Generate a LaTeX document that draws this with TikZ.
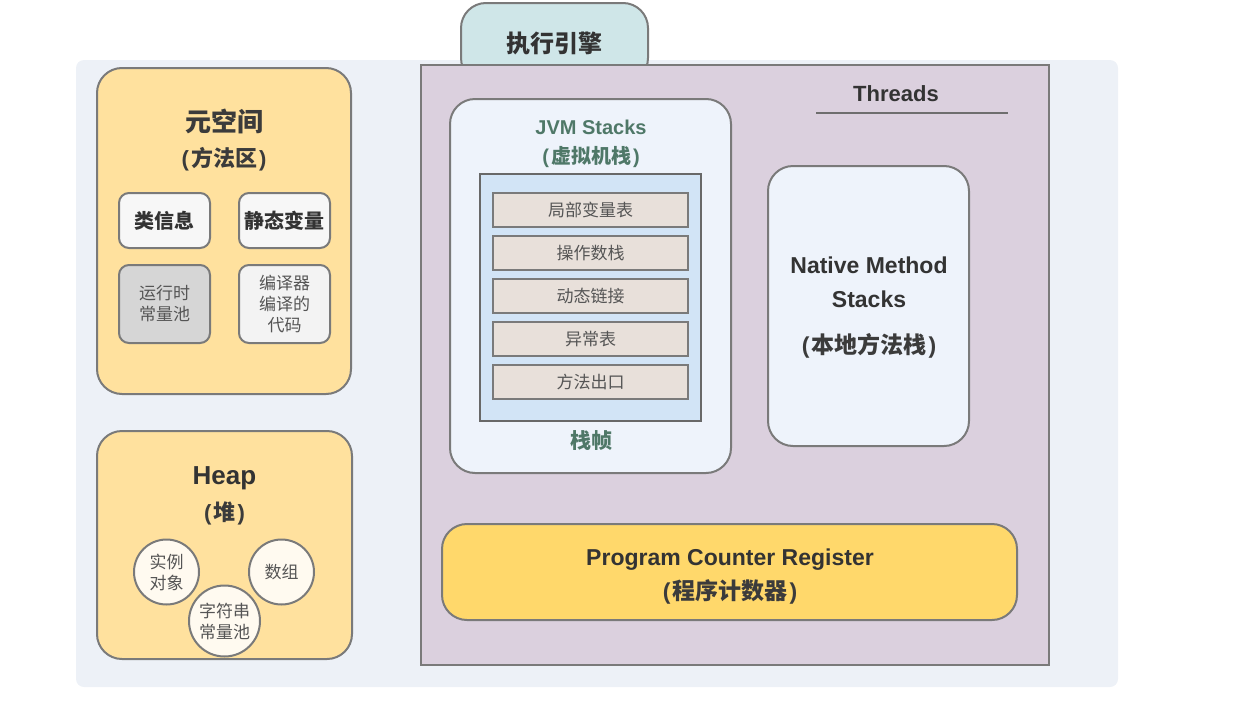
\documentclass[tikz,border=0pt]{standalone}
\usepackage{fontspec}
\setmainfont{Liberation Sans}
\newfontfamily\cjk{Noto Sans CJK SC}
\newcommand\pin[1]{(\kern2pt{\cjk #1}\kern2pt)}
\definecolor{panel}{HTML}{EDF1F7}
\definecolor{ybox}{HTML}{FFE19E}
\definecolor{thr}{HTML}{DBD0DE}
\definecolor{tabc}{HTML}{CFE6E8}
\definecolor{stk}{HTML}{EEF3FB}
\definecolor{frm}{HTML}{D2E4F6}
\definecolor{rowc}{HTML}{E8E0DA}
\definecolor{pcc}{HTML}{FFD86B}
\definecolor{circc}{HTML}{FFFAF0}
\definecolor{lgray}{HTML}{F7F7F7}
\definecolor{mgray}{HTML}{D6D6D6}
\definecolor{sgray}{HTML}{F3F3F3}
\definecolor{bord}{HTML}{7A7A7A}
\definecolor{grn}{HTML}{4F7868}
\definecolor{dtxt}{HTML}{333333}
\definecolor{gtxt}{HTML}{555555}
\tikzset{
  shapebox/.style={draw=bord, line width=2pt, inner sep=0pt, rectangle},
  rbox/.style={shapebox, rounded corners=25pt},
  sbox/.style={shapebox, rounded corners=10pt},
  rowbox/.style={shapebox, fill=rowc, minimum width=195pt, minimum height=34pt, text=gtxt, font=\fontsize{17pt}{20pt}\selectfont\cjk},
  circbox/.style={draw=bord, line width=2pt, circle, inner sep=0pt, fill=circc, text=gtxt, align=center, font=\fontsize{17pt}{21pt}\selectfont\cjk},
  txt/.style={inner sep=0pt, align=center},
}
\begin{document}
\begin{tikzpicture}[x=1pt,y=-1pt]
\useasboundingbox (0,0) rectangle (1245,726);
% background panel
\fill[panel, rounded corners=8pt] (76,60) rectangle (1118,687);
% engine tab
\node[rbox, fill=tabc, minimum width=187pt, minimum height=80pt, text=dtxt, font=\fontsize{24pt}{28pt}\selectfont\bfseries\cjk] (engine) at (554.5,43) {执行引擎};
% threads
\node[shapebox, fill=thr, minimum width=628pt, minimum height=600pt] (threads) at (735,365) {};
\node[txt, text=dtxt, font=\fontsize{22pt}{26pt}\selectfont\bfseries] (thrlabel) at (896,94) {Threads};
\coordinate (tl) at (816,113);
\coordinate (tr) at (1008,113);
\draw[bord!90!black, line width=2.2pt] (tl) -- (tr);
% metaspace
\node[rbox, fill=ybox, minimum width=254pt, minimum height=326pt] (meta) at (224,231) {};
\node[txt, text=dtxt!90!gray, font=\fontsize{26pt}{30pt}\selectfont\bfseries\cjk] (metat) at (224,121) {元空间};
\node[txt, text=dtxt!90!gray, font=\fontsize{22pt}{26pt}\selectfont\bfseries] (metas) at (224,159) {\pin{方法区}};
\node[sbox, fill=lgray, minimum width=91pt, minimum height=55pt, text=dtxt, font=\fontsize{20pt}{24pt}\selectfont\bfseries\cjk] (cls) at (164.5,220.5) {类信息};
\node[sbox, fill=lgray, minimum width=91pt, minimum height=55pt, text=dtxt, font=\fontsize{20pt}{24pt}\selectfont\bfseries\cjk] (stat) at (284.5,220.5) {静态变量};
\node[sbox, fill=mgray, minimum width=91pt, minimum height=78pt, text=gtxt, align=center, font=\fontsize{17pt}{21pt}\selectfont\cjk] (rcp) at (164.5,304) {运行时\\常量池};
\node[sbox, fill=sgray, minimum width=91pt, minimum height=78pt, text=gtxt, align=center, font=\fontsize{17pt}{21pt}\selectfont\cjk] (code) at (284.5,304) {编译器\\编译的\\代码};
% heap
\node[rbox, fill=ybox, minimum width=255pt, minimum height=228pt] (heap) at (224.5,545) {};
\node[txt, text=dtxt, font=\fontsize{26pt}{30pt}\selectfont\bfseries] (heapt) at (224.5,478) {Heap};
\node[txt, text=dtxt!90!gray, font=\fontsize{22pt}{26pt}\selectfont\bfseries] (heaps) at (224.5,513) {\pin{堆}};
\node[circbox, minimum size=65pt] (obj) at (166.5,572) {实例\\对象};
\node[circbox, minimum size=65pt] (arr) at (281.5,572) {数组};
\node[circbox, minimum size=71pt] (spool) at (224.5,621) {字符串\\常量池};
% JVM stacks
\node[rbox, fill=stk, minimum width=281pt, minimum height=374pt] (jvm) at (590.5,286) {};
\node[txt, text=grn, font=\fontsize{20pt}{24pt}\selectfont\bfseries] (jvmt) at (591,127) {JVM Stacks};
\node[txt, text=grn, font=\fontsize{20pt}{24pt}\selectfont\bfseries] (jvms) at (591,157) {\pin{虚拟机栈}};
\node[shapebox, draw=bord!85!black, fill=frm, minimum width=221pt, minimum height=247pt] (frame) at (590.5,297.5) {};
\node[rowbox] (r1) at (590.5,210) {局部变量表};
\node[rowbox] (r2) at (590.5,253) {操作数栈};
\node[rowbox] (r3) at (590.5,296) {动态链接};
\node[rowbox] (r4) at (590.5,339) {异常表};
\node[rowbox] (r5) at (590.5,382) {方法出口};
\node[txt, text=grn, font=\fontsize{21pt}{25pt}\selectfont\bfseries\cjk] (frmt) at (591,441) {栈帧};
% native
\node[rbox, fill=stk, minimum width=201pt, minimum height=280pt] (native) at (868.5,306) {};
\node[txt, text=dtxt, font=\fontsize{23pt}{34pt}\selectfont\bfseries] (nat1) at (869,282) {Native Method\\Stacks};
\node[txt, text=dtxt!90!gray, font=\fontsize{23pt}{27pt}\selectfont\bfseries] (nat2) at (869,346) {\pin{本地方法栈}};
% program counter
\node[rbox, fill=pcc, minimum width=575pt, minimum height=96pt] (pc) at (729.5,572) {};
\node[txt, text=dtxt, font=\fontsize{23pt}{27pt}\selectfont\bfseries] (pct) at (730,560) {Program Counter Register};
\node[txt, text=dtxt!90!gray, font=\fontsize{23pt}{27pt}\selectfont\bfseries] (pcs) at (730,592) {\pin{程序计数器}};
\end{tikzpicture}
\end{document}
